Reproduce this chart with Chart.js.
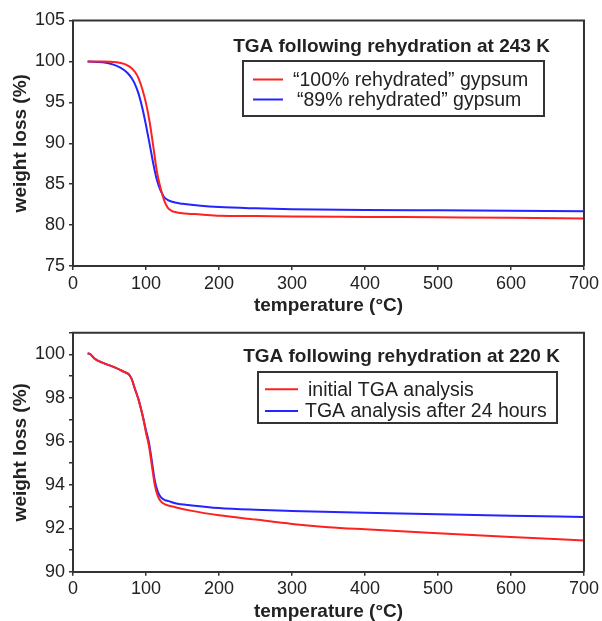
<!DOCTYPE html>
<html><head><meta charset="utf-8">
<script src="https://cdn.jsdelivr.net/npm/chart.js@4.4.1/dist/chart.umd.min.js"></script>
<style>
html,body{margin:0;padding:0;background:#fff;}
#wrap{position:relative;width:602px;height:621px;overflow:hidden;background:#fff}
#c1{position:absolute;left:0;top:0}
#c2{position:absolute;left:0;top:318px}
</style></head><body>
<div id="wrap">
<canvas id="c1" width="602" height="318"></canvas>
<canvas id="c2" width="602" height="303"></canvas>
</div>
<script>
// ---------- DATA ----------
// Top panel: TGA following rehydration at 243 K
const topTitle = 'TGA following rehydration at 243 K';
const topLabels = ['\u201c100% rehydrated\u201d gypsum', '\u201c89% rehydrated\u201d gypsum'];
const topRedT = [20, 40, 60, 70, 75, 80, 85, 90, 95, 100, 105, 110, 115, 120, 125, 130, 135, 140, 150, 175, 200, 250, 300, 400, 500, 600, 700];
const topRedW = [100, 100, 99.9, 99.7, 99.5, 99.2, 98.7, 97.9, 96.6, 94.9, 92.6, 89.6, 86.5, 84.5, 83.0, 82.1, 81.75, 81.6, 81.45, 81.3, 81.15, 81.1, 81.05, 81.0, 80.95, 80.9, 80.8];
const topBlueT = [20, 40, 50, 60, 70, 75, 80, 85, 90, 95, 100, 105, 110, 115, 120, 125, 130, 140, 150, 175, 200, 250, 300, 400, 500, 600, 700];
const topBlueW = [100, 99.9, 99.75, 99.45, 98.95, 98.55, 98.0, 97.2, 96.0, 94.3, 92.2, 89.9, 87.5, 85.5, 84.2, 83.4, 83.05, 82.75, 82.6, 82.35, 82.2, 82.05, 81.95, 81.85, 81.8, 81.75, 81.7];
const topYTicks = [75, 80, 85, 90, 95, 100, 105];

// Bottom panel: TGA following rehydration at 220 K
const botTitle = 'TGA following rehydration at 220 K';
const botLabels = ['initial TGA analysis', 'TGA analysis after 24 hours'];
const botRedT = [20, 23, 30, 42, 58, 70, 76, 80, 85, 90, 96, 100, 104, 108, 112, 116, 120, 126, 140, 163, 200, 250, 300, 350, 400, 500, 600, 700];
const botRedW = [100.05, 100.03, 99.8, 99.6, 99.4, 99.2, 99.1, 98.9, 98.4, 97.9, 97.1, 96.4, 95.8, 94.9, 94.0, 93.5, 93.25, 93.1, 92.97, 92.8, 92.6, 92.4, 92.2, 92.05, 91.95, 91.77, 91.6, 91.44];
const botBlueT = [20, 23, 30, 42, 58, 70, 76, 80, 85, 90, 96, 100, 104, 108, 112, 116, 120, 126, 131, 140, 163, 200, 250, 300, 400, 500, 600, 700];
const botBlueW = [100.05, 100.03, 99.8, 99.6, 99.4, 99.2, 99.1, 98.9, 98.4, 97.9, 97.1, 96.5, 95.95, 95.1, 94.2, 93.7, 93.45, 93.3, 93.25, 93.15, 93.05, 92.93, 92.85, 92.8, 92.72, 92.65, 92.58, 92.52];

const xTicks = [0, 100, 200, 300, 400, 500, 600, 700];
const xTitle = 'temperature (\u00b0C)';
const yTitle = 'weight loss (%)';

// ---------- STYLE ----------
const FONT = "'Liberation Sans', Arial, Helvetica, sans-serif";
const RED = '#ff2020';
const BLUE = '#2424ff';
const AXIS = '#333333';
const TEXT = '#222222';

function pts(t, w) { return t.map((v, i) => ({x: v, y: w[i]})); }

const boxLegend = {
  id: 'boxLegend',
  afterDraw(chart, args, o) {
    const {ctx, chartArea: a} = chart;
    ctx.save();
    // frame top/right
    ctx.strokeStyle = AXIS; ctx.lineWidth = 2;
    ctx.beginPath();
    ctx.moveTo(a.left - 1, a.top); ctx.lineTo(a.right, a.top); ctx.lineTo(a.right, a.bottom);
    ctx.stroke();
    // legend title
    ctx.fillStyle = TEXT;
    ctx.font = 'bold 19px ' + FONT;
    ctx.textAlign = 'center'; ctx.textBaseline = 'middle';
    ctx.fillText(o.title, o.titleX, o.titleY);
    // legend box
    ctx.strokeStyle = AXIS; ctx.lineWidth = 2;
    ctx.strokeRect(o.box[0], o.box[1], o.box[2] - o.box[0], o.box[3] - o.box[1]);
    ctx.font = '19.5px ' + FONT;
    ctx.textAlign = 'left';
    chart.data.datasets.forEach((ds, i) => {
      const y = o.itemY[i];
      ctx.strokeStyle = ds.borderColor; ctx.lineWidth = 2;
      ctx.beginPath(); ctx.moveTo(o.lineX[0], y); ctx.lineTo(o.lineX[1], y); ctx.stroke();
      ctx.fillStyle = TEXT;
      ctx.fillText(ds.label, o.textX[i], y + 1);
    });
    ctx.restore();
  }
};

function makeChart(id, cfg) {
  return new Chart(document.getElementById(id), {
    type: 'line',
    data: {
      datasets: [
        {label: cfg.labels[0], data: pts(cfg.rT, cfg.rW), borderColor: RED, borderWidth: 2, pointRadius: 0, cubicInterpolationMode: 'monotone'},
        {label: cfg.labels[1], data: pts(cfg.bT, cfg.bW), borderColor: BLUE, borderWidth: 2, pointRadius: 0, cubicInterpolationMode: 'monotone'}
      ]
    },
    options: {
      responsive: false,
      animation: false,
      layout: {padding: {top: cfg.padTop, right: 18, left: 0, bottom: 0}},
      plugins: {
        legend: {display: false},
        tooltip: {enabled: false},
        boxLegend: cfg.legend
      },
      scales: {
        x: {
          type: 'linear', min: 0, max: 700,
          afterFit: s => { s.height = cfg.xH; },
          afterBuildTicks: s => { s.ticks = xTicks.map(v => ({value: v})); },
          ticks: {color: TEXT, font: {family: FONT, size: 18}, padding: 3, maxRotation: 0, autoSkip: false},
          grid: {display: true, drawOnChartArea: false, tickLength: 4, color: AXIS, lineWidth: 1.5},
          border: {display: true, color: AXIS, width: 2},
          title: {display: true, text: xTitle, color: TEXT, font: {family: FONT, size: 19, weight: 'bold', lineHeight: 1}, padding: {top: 0, bottom: cfg.xTitlePad}}
        },
        y: {
          type: 'linear', min: cfg.yMin, max: cfg.yMax,
          afterFit: s => { s.width = 73; },
          afterBuildTicks: s => { s.ticks = cfg.yTickVals.map(v => ({value: v})); },
          ticks: {color: TEXT, font: {family: FONT, size: 18}, padding: 4, autoSkip: false,
                  callback: v => (cfg.yLabelVals.includes(v) ? String(v) : '')},
          grid: {display: true, drawOnChartArea: false, tickLength: 4, color: AXIS, lineWidth: 1.5},
          border: {display: true, color: AXIS, width: 2},
          title: {display: true, text: yTitle, color: TEXT, font: {family: FONT, size: 19, weight: 'bold', lineHeight: 1}, padding: {top: 11, bottom: 0}}
        }
      }
    },
    plugins: [boxLegend]
  });
}

const botYTicks = [];
for (let v = 90; v <= 101; v++) botYTicks.push(v);
const botYLabels = [90, 92, 94, 96, 98, 100];

makeChart('c1', {
  labels: topLabels, rT: topRedT, rW: topRedW, bT: topBlueT, bW: topBlueW,
  yMin: 75, yMax: 105, yTickVals: topYTicks, yLabelVals: topYTicks,
  padTop: 20.5, xH: 318 - 266, xTitlePad: 3,
  legend: {title: topTitle, titleX: 391.5, titleY: 47, box: [243, 61, 544, 116], lineX: [253, 283], itemY: [79.5, 99.5], textX: [293, 297]}
});

makeChart('c2', {
  labels: botLabels, rT: botRedT, rW: botRedW, bT: botBlueT, bW: botBlueW,
  yMin: 90, yMax: 101, yTickVals: botYTicks, yLabelVals: botYLabels,
  padTop: 11.7, xH: 303 - 253.7, xTitlePad: 0,
  legend: {title: botTitle, titleX: 401.5, titleY: 39, box: [258, 54, 557, 105], lineX: [265, 298], itemY: [71.3, 93], textX: [308, 305]}
});
</script>
</body></html>
